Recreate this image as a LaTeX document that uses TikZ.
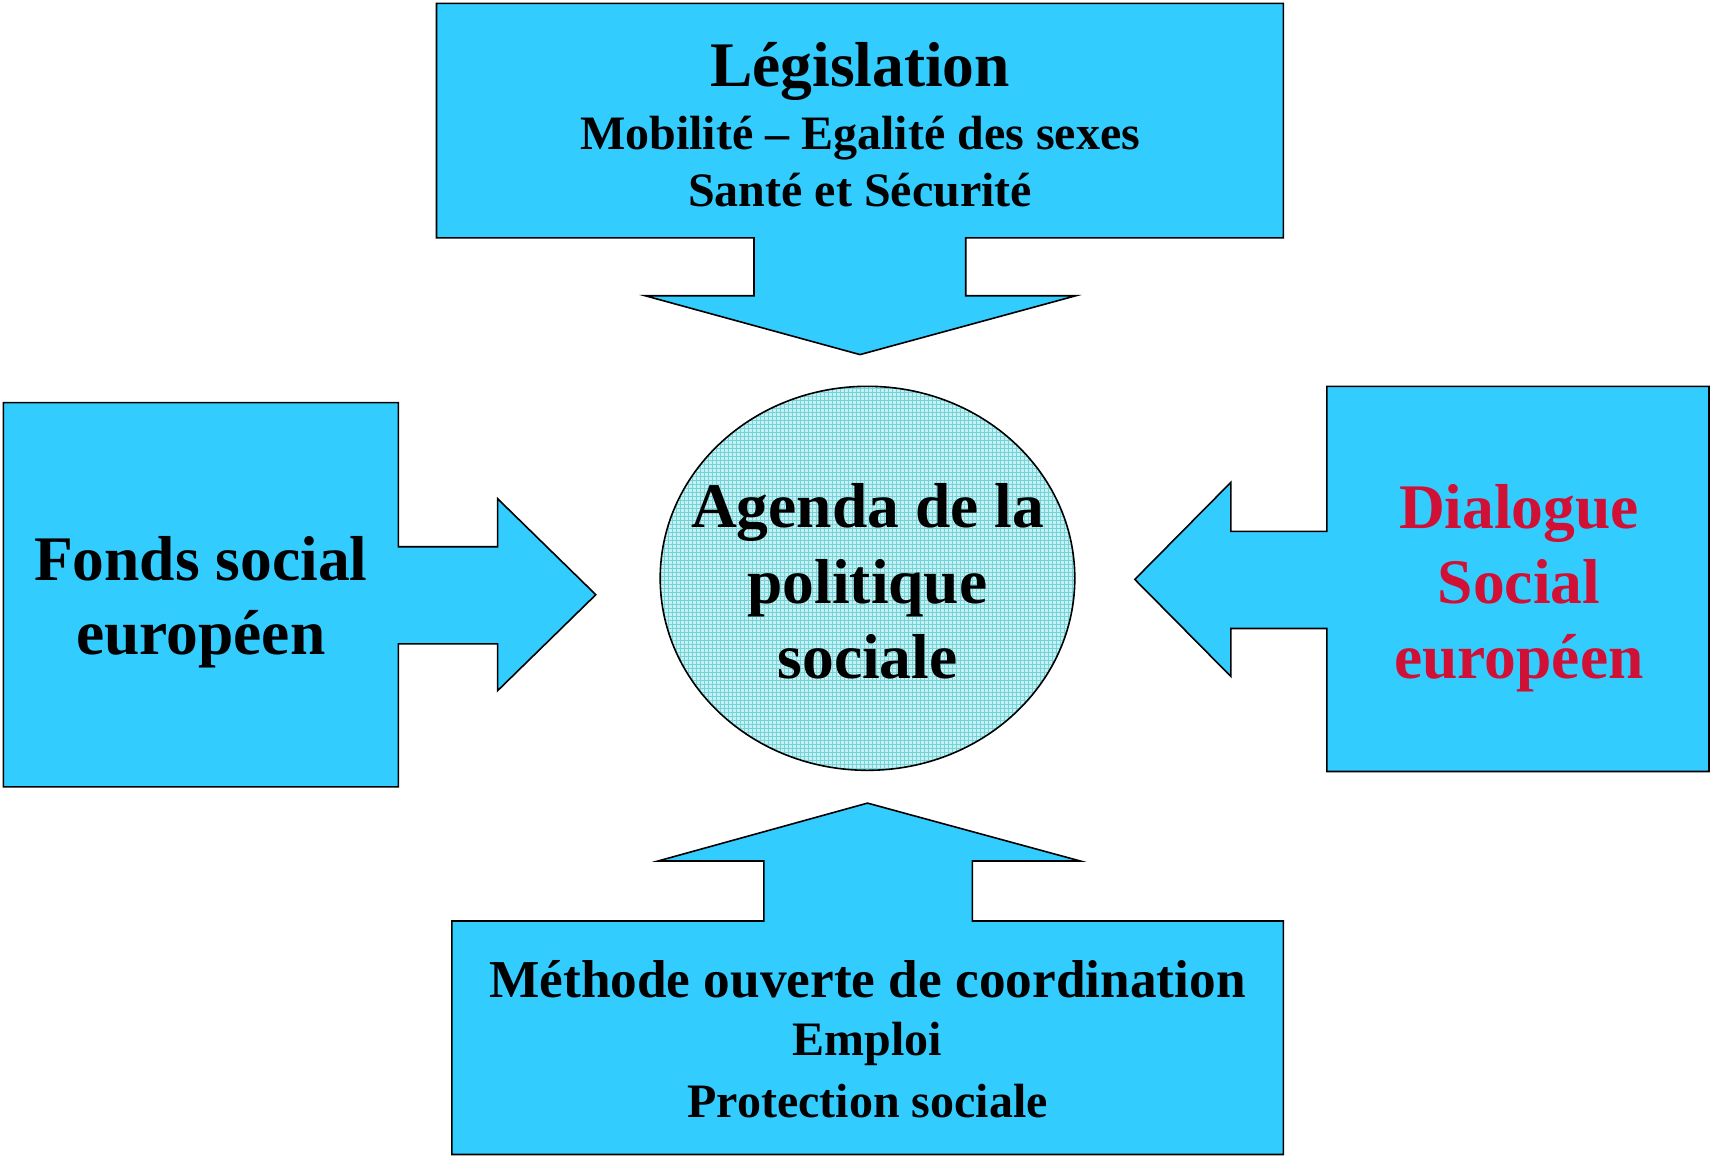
\documentclass[tikz,border=0pt]{standalone}
\usepackage{fontspec}
\setmainfont{Liberation Serif}
\definecolor{boxcyan}{RGB}{51,204,255}
\definecolor{redtxt}{RGB}{208,16,52}
\definecolor{circfill}{RGB}{200,240,243}
\definecolor{circgrid}{RGB}{112,212,216}
\begin{document}
\begin{tikzpicture}[x=1pt,y=-1pt,
  blockarrow/.style={fill=boxcyan, draw=black, line width=1.6pt, line join=miter},
  bigtxt/.style={font=\bfseries\fontsize{63.5}{74}\selectfont, inner sep=0pt, anchor=base},
  midtxt/.style={font=\bfseries\fontsize{48}{56}\selectfont, inner sep=0pt, anchor=base},
  medtxt/.style={font=\bfseries\fontsize{53.3}{60}\selectfont, inner sep=0pt, anchor=base}]
\useasboundingbox (0,0) rectangle (1711,1157);
\fill[white] (0,0) rectangle (1711,1157);

% top block arrow
\draw[blockarrow] (436.5,3.3) -- (1283.3,3.3) -- (1283.3,237.9) -- (965.7,237.9) -- (965.7,295.7)
  -- (1076,295.7) -- (860,354.6) -- (645,295.7) -- (754,295.7) -- (754,237.9) -- (436.5,237.9) -- cycle;
% left block arrow
\draw[blockarrow] (3.3,402.6) -- (398.3,402.6) -- (398.3,546.7) -- (497.6,546.7) -- (497.6,498.7)
  -- (595.8,594.7) -- (497.6,690.7) -- (497.6,643.8) -- (398.3,643.8) -- (398.3,786.8) -- (3.3,786.8) -- cycle;
% right block arrow
\draw[blockarrow] (1709,386.3) -- (1326.9,386.3) -- (1326.9,531.4) -- (1230.9,531.4) -- (1230.9,482.3)
  -- (1134.8,579.4) -- (1230.9,676.5) -- (1230.9,628.5) -- (1326.9,628.5) -- (1326.9,771.5) -- (1709,771.5) -- cycle;
% bottom block arrow
\draw[blockarrow] (451.8,1154.5) -- (1283.3,1154.5) -- (1283.3,921) -- (972.3,921) -- (972.3,861)
  -- (1080.3,861) -- (867.5,803.1) -- (658,861) -- (763.8,861) -- (763.8,921) -- (451.8,921) -- cycle;

% centre ellipse with fine grid texture
\fill[circfill] (867.5,578.3) ellipse [x radius=207.3, y radius=192];
\begin{scope}
  \clip (867.5,578.3) ellipse [x radius=207.3, y radius=192];
  \foreach \gx in {656,660,...,1080} {\draw[circgrid, line width=0.9pt] (\gx,382) -- (\gx,776);}
  \foreach \gy in {384,388,...,776} {\draw[circgrid, line width=0.9pt] (656,\gy) -- (1080,\gy);}
\end{scope}
\draw[black, line width=1.6pt] (867.5,578.3) ellipse [x radius=207.3, y radius=192];

% texts
\node[bigtxt] (leg) at (860,86) {Législation};
\node[midtxt] (mob) at (860,149.5) {Mobilité – Egalité des sexes};
\node[midtxt] (san) at (860,206) {Santé et Sécurité};

\node[bigtxt] (fon1) at (200.8,580.5) {Fonds social};
\node[bigtxt] (fon2) at (200.8,654.7) {européen};

\node[bigtxt, text=redtxt] (dia1) at (1519,528) {Dialogue};
\node[bigtxt, text=redtxt] (dia2) at (1519,603.4) {Social};
\node[bigtxt, text=redtxt] (dia3) at (1519,678.7) {européen};

\node[bigtxt] (age1) at (867.5,527) {Agenda de la};
\node[bigtxt] (age2) at (867.5,603.4) {politique};
\node[bigtxt] (age3) at (867.5,678.7) {sociale};

\node[medtxt] (met) at (867.5,997) {Méthode ouverte de coordination};
\node[midtxt] (emp) at (867.5,1055) {Emploi};
\node[midtxt] (pro) at (867.5,1117) {Protection sociale};
\end{tikzpicture}
\end{document}
